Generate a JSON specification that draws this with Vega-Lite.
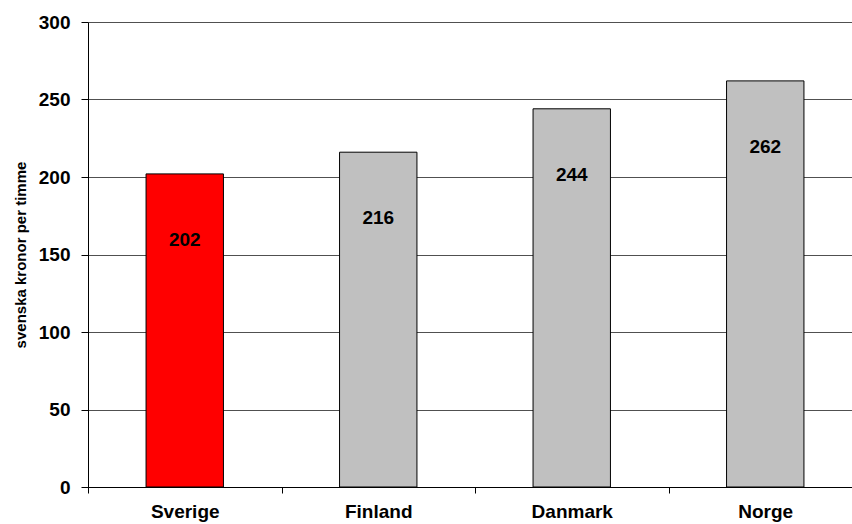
{
  "$schema": "https://vega.github.io/schema/vega-lite/v6.json",
  "autosize": "none",
  "width": 764,
  "height": 465,
  "padding": {"left": 88, "top": 22, "right": 0, "bottom": 37},
  "background": "white",
  "config": {
    "font": "Liberation Sans",
    "view": {"stroke": null}
  },
  "data": {
    "values": [
      {"land": "Sverige", "kr": 202, "highlight": "ja"},
      {"land": "Finland", "kr": 216, "highlight": "nej"},
      {"land": "Danmark", "kr": 244, "highlight": "nej"},
      {"land": "Norge", "kr": 262, "highlight": "nej"}
    ]
  },
  "encoding": {
    "x": {
      "field": "land",
      "type": "nominal",
      "sort": null,
      "scale": {"range": [0, 774], "paddingInner": 0, "paddingOuter": 0},
      "axis": {
        "title": null,
        "labelAngle": 0,
        "labelFont": "Liberation Sans",
        "labelFontSize": 19,
        "labelFontWeight": "bold",
        "labelColor": "black",
        "labelPadding": 9,
        "tickBand": "extent",
        "tickSize": 6,
        "tickColor": "black",
        "domainColor": "black",
        "grid": false
      }
    },
    "y": {
      "field": "kr",
      "type": "quantitative",
      "scale": {"domain": [0, 300], "nice": false},
      "axis": {
        "title": "svenska kronor per timme",
        "titleFont": "Liberation Sans",
        "titleFontSize": 15,
        "titleFontWeight": "bold",
        "titleColor": "black",
        "titlePadding": 10,
        "values": [0, 50, 100, 150, 200, 250, 300],
        "labelFont": "Liberation Sans",
        "labelFontSize": 19,
        "labelFontWeight": "bold",
        "labelColor": "black",
        "labelPadding": 11,
        "tickSize": 7,
        "tickColor": "black",
        "domainColor": "black",
        "grid": true,
        "gridColor": "#505050",
        "gridWidth": 1
      }
    }
  },
  "layer": [
    {
      "mark": {"type": "bar", "stroke": "black", "strokeWidth": 1, "width": {"band": 0.4}},
      "encoding": {
        "color": {
          "field": "highlight",
          "type": "nominal",
          "scale": {"domain": ["ja", "nej"], "range": ["#ff0000", "#c0c0c0"]},
          "legend": null
        }
      }
    },
    {
      "mark": {"type": "text", "fontSize": 19, "fontWeight": "bold", "color": "black", "baseline": "middle", "dy": 66, "font": "Liberation Sans"},
      "encoding": {
        "text": {"field": "kr", "type": "quantitative"}
      }
    }
  ]
}
